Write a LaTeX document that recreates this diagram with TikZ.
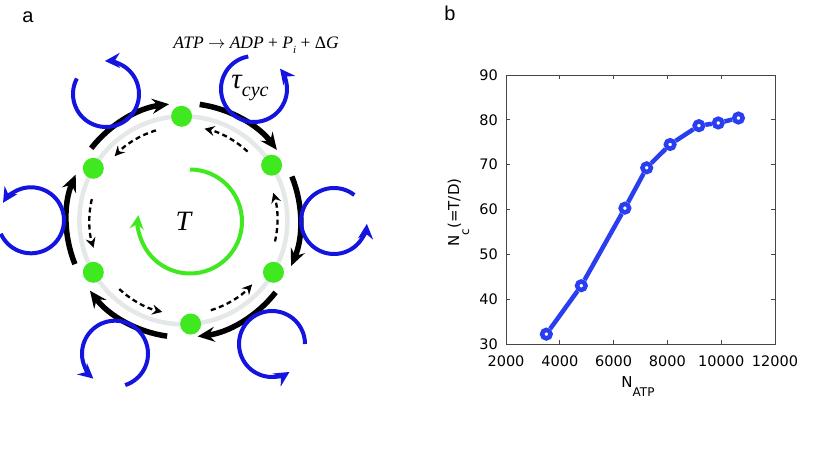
\documentclass[tikz,border=0pt]{standalone}
\usepackage{fontspec}
\usetikzlibrary{arrows.meta}

\newfontfamily\panelfont{Liberation Sans}
\newfontfamily\plotfont{DejaVu Sans}
\newfontfamily\eqfont{Liberation Serif}

\definecolor{ringgray}{RGB}{228,232,232}
\definecolor{atpgreen}{RGB}{64,232,32}
\definecolor{loopblue}{RGB}{20,20,225}
\definecolor{plotblue}{RGB}{40,62,240}
\definecolor{axisgray}{RGB}{70,70,70}

\begin{document}
\begin{tikzpicture}[x=1pt,y=1pt,
        atpsite/.style={circle,fill=atpgreen,minimum size=21pt,inner sep=0pt},
        fwd/.style={line width=5.5pt,-{Stealth[length=17pt,width=15pt,inset=6pt]}},
        bwd/.style={line width=2.3pt,dash pattern=on 5pt off 3.5pt,-{Stealth[length=10pt,width=10pt,inset=3.5pt]}},
        cycloop/.style={loopblue,line width=4pt,-{Stealth[length=15pt,width=15pt,inset=5pt]}},
        panel/.style={font=\panelfont\fontsize{20}{24}\selectfont},
        ticklbl/.style={font=\plotfont\fontsize{14.5}{17}\selectfont,inner sep=0pt},
        datamark/.style={circle,draw=plotblue,line width=4.5pt,fill=white,minimum size=8.5pt,inner sep=0pt}]

    \useasboundingbox (0,0) rectangle (817,448);

    % panel a
    \node[panel] (lbla) at (28,431) {a};

    \begin{scope}[shift={(183.4,227.7)}]
        \draw[ringgray,line width=4.5pt] (0,0) circle[radius=104];

        \foreach \a [count=\i] in {91,32,-30,-86,-150,150}
            \node[atpsite] (s\i) at (\a:104) {};

        % forward steps (outside)
        \foreach \a in {90,30,-30,-90,-150,150}
            \draw[fwd] (\a-8:117) arc[start angle=\a-8, end angle=\a-53, radius=117];

        % backward steps (inside)
        \foreach \a in {30,90,...,330}
            \draw[bwd] (\a+17:94) arc[start angle=\a+17, end angle=\a+47, radius=94];

        \draw[atpgreen,line width=4pt,-{Stealth[length=14pt,width=14pt,inset=5pt]}]
            (6.6,-1.2) ++(90:52) arc[start angle=90, end angle=-187, radius=52];
        \node[font=\eqfont\itshape\fontsize{28}{30}\selectfont] (torque) at (0,-1) {T};
    \end{scope}

    \foreach \cx/\cy/\sa/\ea in {106/354/152/452, 254/359/100/398, 334/227/52/355,
                                 272/104/0/302, 115/94.3/-72/229, 31/227.7/-156/148}
        \draw[cycloop] (\cx,\cy) ++(\sa:33) arc[start angle=\sa, end angle=\ea, radius=33];

    \node[font=\eqfont\itshape\fontsize{29}{30}\selectfont] (taucyc) at (250,360)
        {τ\raisebox{-0.3em}{\fontsize{20}{20}\selectfont cyc}};
    \node[font=\eqfont\fontsize{17.5}{20}\selectfont] (reaction) at (256,403)
        {\itshape ATP \upshape$\rightarrow$ \itshape ADP \upshape+
         \itshape P\raisebox{-0.3em}{\fontsize{11}{12}\selectfont i} \upshape+ Δ\itshape G};

    % panel b
    \node[panel] (lblb) at (450,435) {b};

    \begin{scope}[shift={(452.2,-30.5)},x=0.0269pt,y=4.4833pt]
        \draw[axisgray,line width=1pt] (2000,30) rectangle (12000,90);
        \foreach \v in {2000,4000,...,12000} {
            \draw[axisgray,line width=0.8pt] (\v,30) -- ++(0,4pt) (\v,90) -- ++(0,-4pt);
            \node[ticklbl] (xt\v) at (\v,30) [yshift=-17.5pt] {\v};
        }
        \foreach \v in {30,40,...,90} {
            \draw[axisgray,line width=0.8pt] (2000,\v) -- ++(4pt,0) (12000,\v) -- ++(-4pt,0);
            \node[ticklbl,anchor=east] (yt\v) at (2000,\v) [xshift=-8pt] {\v};
        }

        \foreach \px/\py [count=\i] in {3500/32.2, 4800/43.0, 6420/60.3, 7230/69.3,
                                        8100/74.5, 9170/78.7, 9890/79.3, 10640/80.4}
            \node[datamark] (p\i) at (\px,\py) {};
        \draw[plotblue,line width=4.5pt] (p1) -- (p2) -- (p3) -- (p4) -- (p5) -- (p6) -- (p7) -- (p8);
    \end{scope}

    \node[font=\plotfont\fontsize{15}{18}\selectfont] (xlbl) at (638,61)
        {N\raisebox{-9pt}{\fontsize{12}{14}\selectfont ATP}};
    \node[font=\plotfont\fontsize{15}{18}\selectfont,rotate=90] (ylbl) at (458.5,235.5)
        {N\raisebox{-10pt}{\fontsize{12}{14}\selectfont c}(=T/D)};

\end{tikzpicture}
\end{document}
